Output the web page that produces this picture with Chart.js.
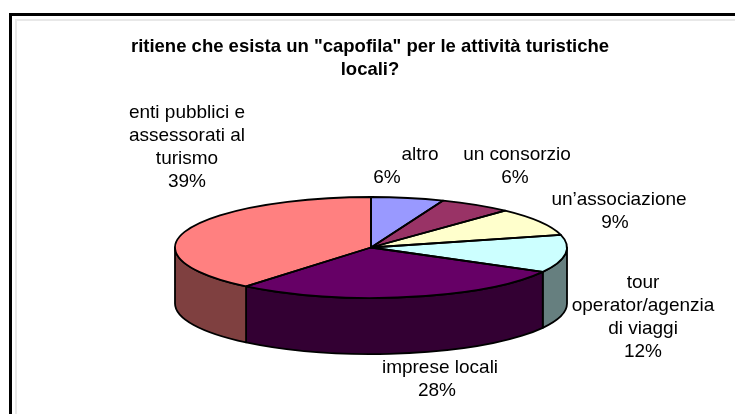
<!DOCTYPE html>
<html>
<head>
<meta charset="utf-8">
<script src="https://cdn.jsdelivr.net/npm/chart.js@4.4.0/dist/chart.umd.min.js"></script>
<style>
html, body { margin: 0; padding: 0; background: #fff; }
canvas { display: block; }
</style>
</head>
<body>
<canvas id="capofila" width="735" height="414"></canvas>
<script>
var categorie = [
	['altro'],
	['un consorzio'],
	['un’associazione'],
	['tour', 'operator/agenzia', 'di viaggi'],
	['imprese locali'],
	['enti pubblici e', 'assessorati al', 'turismo']
];
var percentuali = [6, 6, 9, 12, 28, 39];
var colori = ['#9999FF', '#993366', '#FFFFCC', '#CCFFFF', '#660066', '#FF8080'];
var titolo = ['ritiene che esista un "capofila" per le attività turistiche', 'locali?'];

// x del nome, x della percentuale, y della prima riga
var posEtichette = [[420, 387, 155], [517, 515, 155], [619, 615, 200], [643, 643, 283], [440, 437, 368], [187, 187, 113]];
var ellisse = { x: 371, y: 247.5, rx: 196, ry: 50.5, spessore: 56 };
var FONT = '"Liberation Sans", Arial, sans-serif';
var BORDO = 1.8;

function scurisci(hex) {
	var n = parseInt(hex.slice(1), 16);
	return 'rgb(' + ((n >> 16) >> 1) + ',' + (((n >> 8) & 255) >> 1) + ',' + ((n & 255) >> 1) + ')';
}

var torta3d = {
	id: 'torta3d',
	beforeDraw: function(chart){
		var ctx = chart.ctx;
		ctx.save();
		ctx.fillStyle = '#fff';
		ctx.fillRect(0, 0, chart.width, chart.height);
		ctx.fillStyle = '#000';
		ctx.fillRect(9, 13, 3, chart.height);
		ctx.fillRect(9, 13, chart.width, 3);
		ctx.fillStyle = '#e8e8e8';
		ctx.fillRect(15, 19, 2, chart.height);
		ctx.fillRect(15, 19, chart.width, 2);
		ctx.restore();
	},
	beforeDatasetsDraw: function(chart){
		var ctx = chart.ctx, e = ellisse;
		var archi = chart.getDatasetMeta(0).data;
		var sfondi = chart.data.datasets[0].backgroundColor;

		// pareti laterali: solo la metà davanti si vede
		ctx.save();
		ctx.lineWidth = BORDO;
		ctx.strokeStyle = '#000';
		ctx.lineJoin = 'round';
		archi.forEach(function(arco, i){
			var p = arco.getProps(['startAngle', 'endAngle'], true);
			var a = Math.max(p.startAngle, 0), b = Math.min(p.endAngle, Math.PI);
			if (a >= b) return;
			ctx.beginPath();
			ctx.ellipse(e.x, e.y, e.rx, e.ry, 0, a, b);
			ctx.ellipse(e.x, e.y + e.spessore, e.rx, e.ry, 0, b, a, true);
			ctx.closePath();
			ctx.fillStyle = scurisci(sfondi[i]);
			ctx.fill();
			ctx.stroke();
		});
		ctx.restore();

		// la faccia sopra la disegna Chart.js, schiacciata sull'ellisse
		var c = archi[0].getProps(['x', 'y', 'outerRadius'], true);
		ctx.save();
		ctx.translate(e.x, e.y);
		ctx.scale(e.rx / c.outerRadius, e.ry / c.outerRadius);
		ctx.translate(-c.x, -c.y);
	},
	afterDatasetsDraw: function(chart){
		var ctx = chart.ctx, e = ellisse;
		ctx.restore();

		var archi = chart.getDatasetMeta(0).data;
		ctx.save();
		ctx.lineWidth = BORDO;
		ctx.strokeStyle = '#000';
		ctx.lineJoin = 'round';
		archi.forEach(function(arco){
			var p = arco.getProps(['startAngle', 'endAngle'], true);
			ctx.beginPath();
			ctx.moveTo(e.x, e.y);
			ctx.ellipse(e.x, e.y, e.rx, e.ry, 0, p.startAngle, p.endAngle);
			ctx.closePath();
			ctx.stroke();
		});

		// etichette con nome e percentuale
		var valori = chart.data.datasets[0].data;
		var totale = valori.reduce(function(s, v){ return s + v; }, 0);
		ctx.font = '19px ' + FONT;
		ctx.fillStyle = '#000';
		ctx.textAlign = 'center';
		ctx.textBaseline = 'middle';
		chart.data.labels.forEach(function(righe, i){
			var pos = posEtichette[i];
			righe.forEach(function(r, k){
				ctx.fillText(r, pos[0], pos[2] + k * 23);
			});
			ctx.fillText(Math.round(valori[i] / totale * 100) + '%', pos[1], pos[2] + righe.length * 23);
		});
		ctx.restore();
	}
};

var ctx = document.getElementById('capofila');
var grafico = new Chart(ctx, {
	type: 'pie',
	data: {
		labels: categorie,
		datasets: [{
			data: percentuali,
			backgroundColor: colori,
			borderWidth: 0,
			clip: false
		}]
	},
	options: {
		responsive: false,
		animation: false,
		events: [],
		layout: { padding: { left: 5 } },
		plugins: {
			legend: { display: false },
			tooltip: { enabled: false },
			title: {
				display: true,
				text: titolo,
				color: '#000',
				font: { family: FONT, size: 18.5, weight: 'bold', lineHeight: 1.24 },
				padding: { top: 35, bottom: 10 }
			}
		}
	},
	plugins: [torta3d]
});
</script>
</body>
</html>
